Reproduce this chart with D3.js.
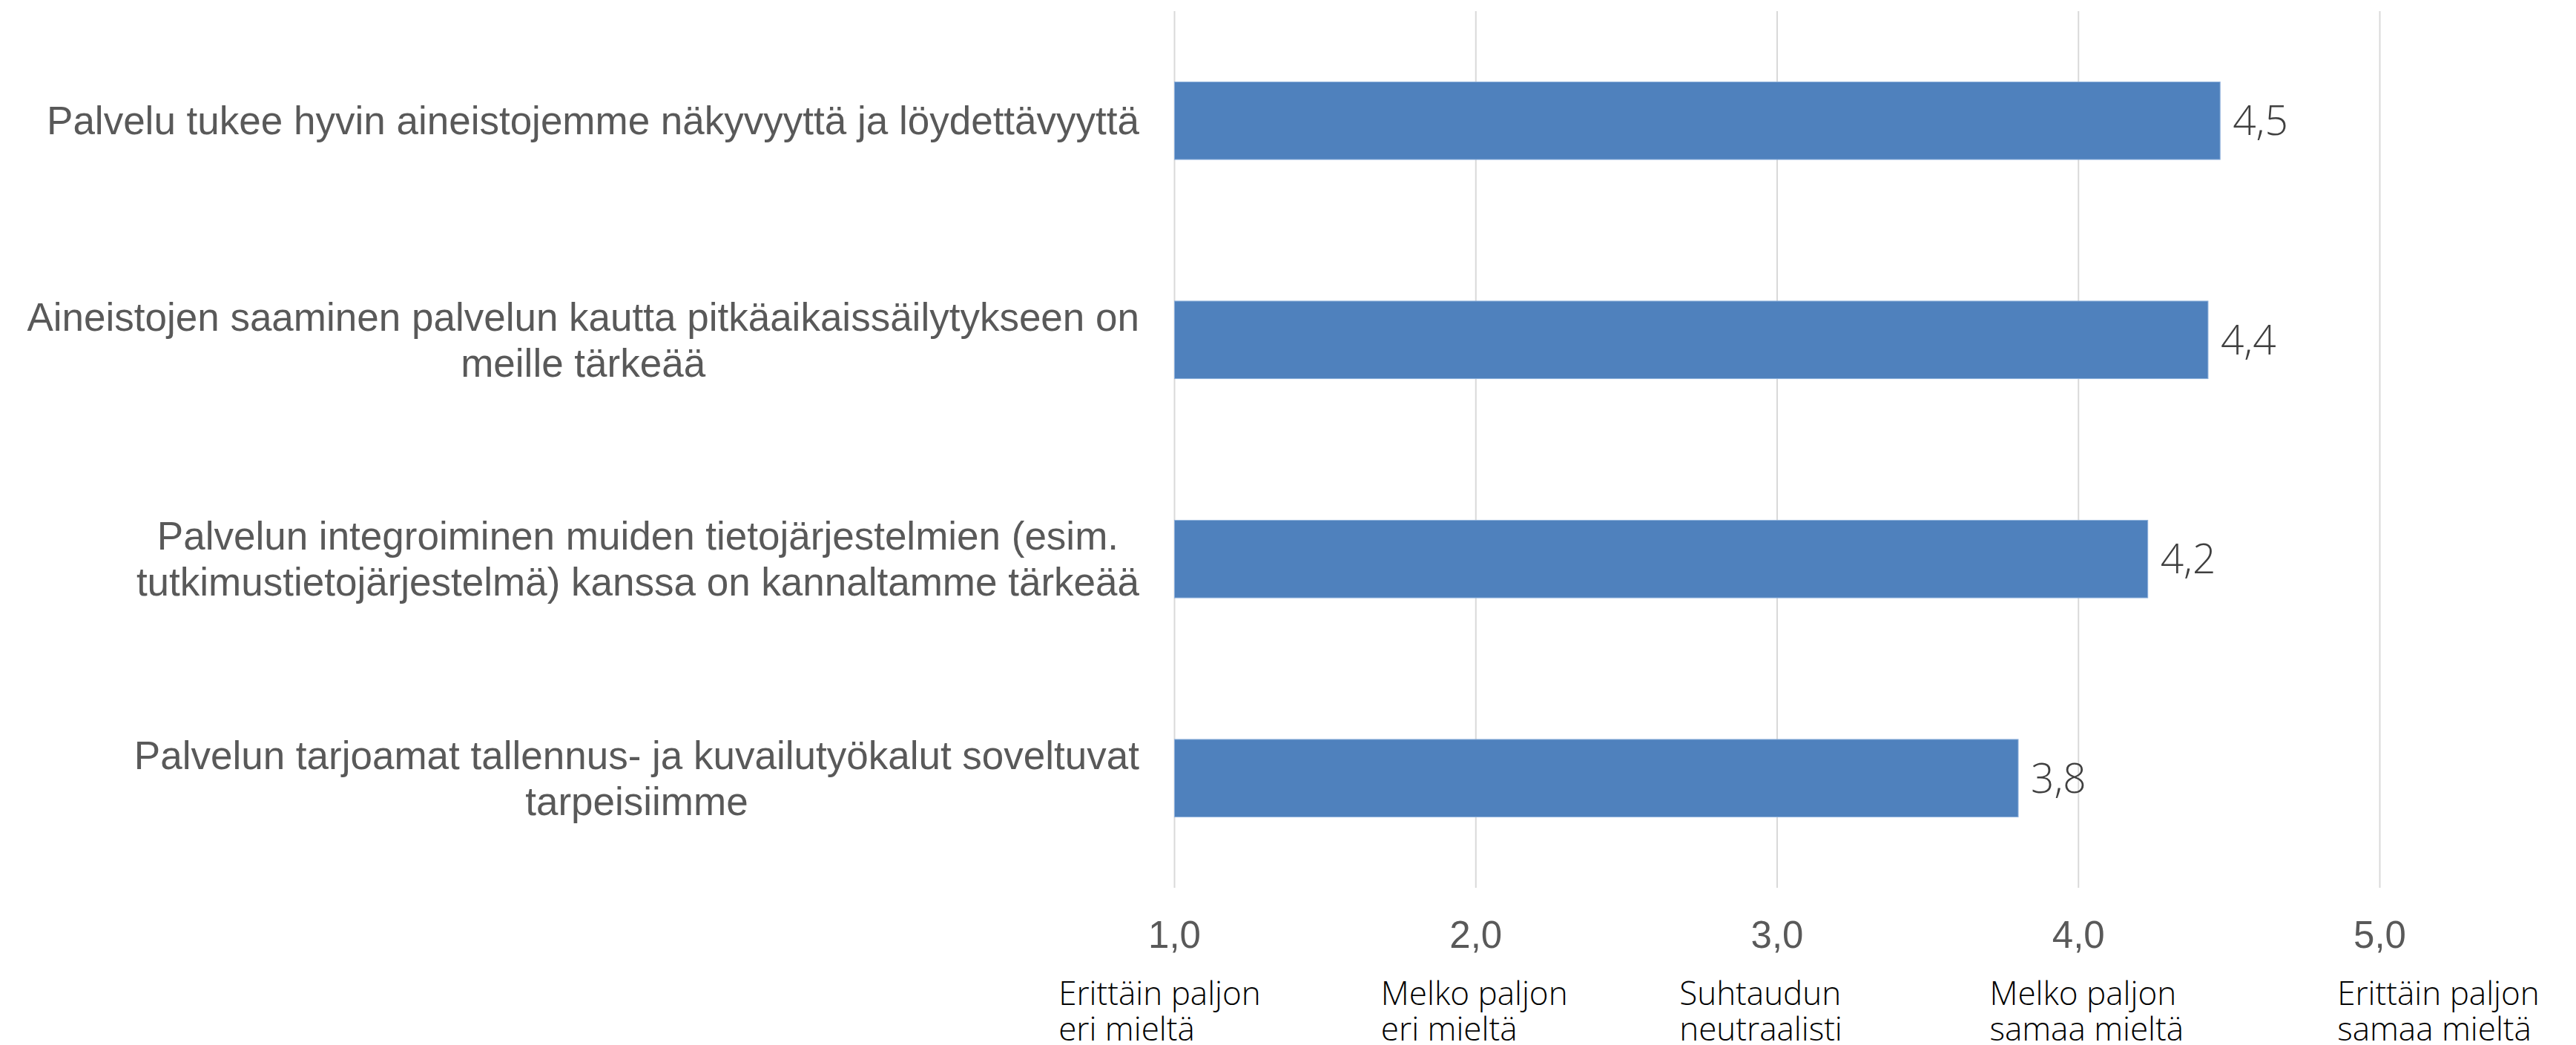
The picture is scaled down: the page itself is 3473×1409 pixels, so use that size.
<!DOCTYPE html>
<html>
<head>
<meta charset="utf-8">
<script src="https://cdn.jsdelivr.net/npm/d3@7"></script>
<style>
  body { margin: 0; background: #fff; }
  svg { display: block; }
</style>
</head>
<body>
<div id="chart"></div>
<script>
// survey statements, one per bar (line breaks as in the original)
const categories = [
    "Palvelu tukee hyvin aineistojemme näkyvyyttä ja löydettävyyttä",
    "Aineistojen saaminen palvelun kautta pitkäaikaissäilytykseen on\nmeille tärkeää",
    "Palvelun integroiminen muiden tietojärjestelmien (esim.\ntutkimustietojärjestelmä) kanssa on kannaltamme tärkeää",
    "Palvelun tarjoamat tallennus- ja kuvailutyökalut soveltuvat\ntarpeisiimme"
];
const averages = [4.47, 4.43, 4.23, 3.80];
const ticks = [1, 2, 3, 4, 5];
const scaleLabels = [
    "Erittäin paljon\neri mieltä",
    "Melko paljon\neri mieltä",
    "Suhtaudun\nneutraalisti",
    "Melko paljon\nsamaa mieltä",
    "Erittäin paljon\nsamaa mieltä"
];
// nudges of the scale text boxes relative to their tick
const scaleLabelShift = [-20, -2, -22, 11, 79];

const W = 3473, H = 1409;
const plot = {left: 1583.5, right: 3208.5, top: 15, bottom: 1197};

const fmt = v => d3.format(".1f")(v).replace(".", ",");

const svg = d3.select("#chart").append("svg")
    .attr("width", W)
    .attr("height", H);

const x = d3.scaleLinear().domain([1, 5]).range([plot.left, plot.right]);
const y = d3.scaleBand()
    .domain(categories)
    .range([plot.top, plot.bottom])
    .paddingInner(0.646)
    .paddingOuter(0.323);

// vertical gridlines
svg.append("g").selectAll("line")
    .data(ticks)
    .enter().append("line")
    .attr("x1", d => x(d)).attr("x2", d => x(d))
    .attr("y1", plot.top).attr("y2", plot.bottom)
    .attr("stroke", "#d9d9d9")
    .attr("stroke-width", 2);

// bars
svg.append("g").selectAll("rect")
    .data(averages)
    .enter().append("rect")
    .attr("x", x(1))
    .attr("y", (d, i) => y(categories[i]))
    .attr("width", d => x(d) - x(1))
    .attr("height", y.bandwidth())
    .attr("fill", "#4f81bd")
    .attr("stroke", "#8eb0dc")
    .attr("stroke-width", 1);

// value labels
svg.append("g").selectAll("text")
    .data(averages)
    .enter().append("text")
    .attr("x", d => x(d) + 17)
    .attr("y", (d, i) => y(categories[i]) + y.bandwidth() / 2)
    .attr("dy", "0.35em")
    .attr("font-family", "'Open Sans', sans-serif")
    .attr("font-weight", 300)
    .attr("font-size", 55)
    .attr("fill", "#404040")
    .text(fmt);

// category labels: block right edge fixed, lines centred inside the block
const catRight = 1536, catSize = 53, catLine = 62;
const cat = svg.append("g").selectAll("text")
    .data(categories)
    .enter().append("text")
    .attr("font-family", "'Liberation Sans', Arial, sans-serif")
    .attr("font-size", catSize)
    .attr("fill", "#595959")
    .attr("text-anchor", "middle");

cat.each(function(d, i) {
    const t = d3.select(this);
    const lines = d.split("\n");
    const cy = y(d) + y.bandwidth() / 2;
    const y0 = cy - (lines.length - 1) * catLine / 2;
    lines.forEach((ln, j) => {
        t.append("tspan").attr("y", y0 + j * catLine).attr("dy", "0.35em").text(ln);
    });
    let wmax = 0;
    t.selectAll("tspan").each(function() {
        wmax = Math.max(wmax, this.getComputedTextLength());
    });
    t.selectAll("tspan").attr("x", catRight - wmax / 2);
});

// tick numbers
svg.append("g").selectAll("text")
    .data(ticks)
    .enter().append("text")
    .attr("x", d => x(d))
    .attr("y", 1278)
    .attr("text-anchor", "middle")
    .attr("font-family", "'Liberation Sans', Arial, sans-serif")
    .attr("font-size", 51)
    .attr("fill", "#595959")
    .text(fmt);

// verbal scale labels under ticks, left-aligned blocks
const sub = svg.append("g").selectAll("text")
    .data(scaleLabels)
    .enter().append("text")
    .attr("font-family", "'Open Sans', sans-serif")
    .attr("font-weight", 300)
    .attr("font-size", 44)
    .attr("fill", "#000");

sub.each(function(d, i) {
    const t = d3.select(this);
    d.split("\n").forEach((ln, j) => {
        t.append("tspan").attr("y", 1355 + j * 48).text(ln);
    });
    let wmax = 0;
    t.selectAll("tspan").each(function() {
        wmax = Math.max(wmax, this.getComputedTextLength());
    });
    t.selectAll("tspan").attr("x", x(ticks[i]) - wmax / 2 + scaleLabelShift[i]);
});
</script>
</body>
</html>
